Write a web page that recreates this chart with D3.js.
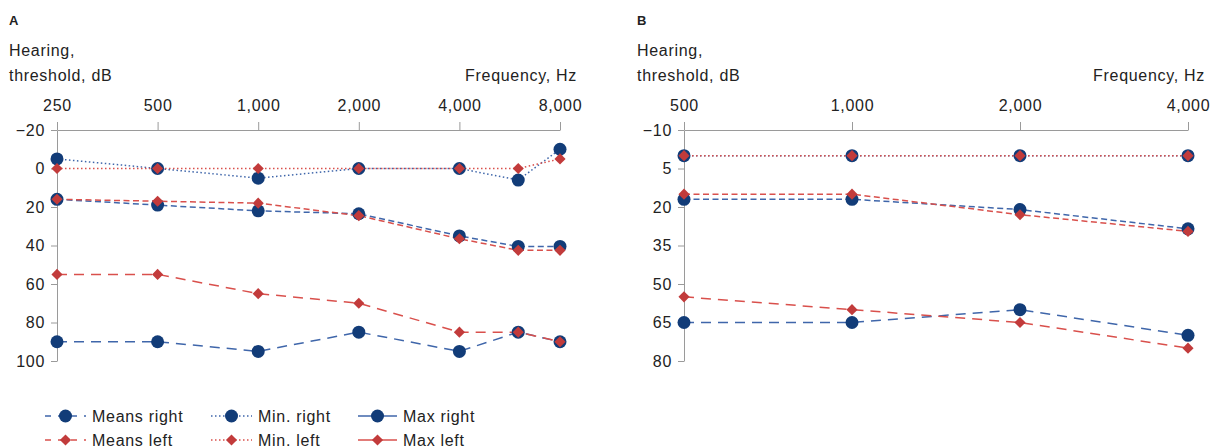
<!DOCTYPE html>
<html><head><meta charset="utf-8">
<script src="https://cdn.jsdelivr.net/npm/d3@7"></script>
<style>
body{margin:0;background:#fff;}
text{font-family:"Liberation Sans",Arial,sans-serif;fill:#222;letter-spacing:0.7px;}
</style></head>
<body><svg id="chart" width="1223" height="448"></svg>
<script>
// ---------- DATA ----------
const freqA = [250, 500, 1000, 2000, 4000, 6000, 8000];
const tickFreqA = [250, 500, 1000, 2000, 4000, 8000];
const yTicksA = [-20, 0, 20, 40, 60, 80, 100];
const meansRightA = [16, 19, 22, 23.5, 35, 40.5, 40.5];
const meansLeftA  = [16, 17, 18, 24.5, 36.5, 42.5, 42.5];
const minRightA   = [-5, 0, 5, 0, 0, 6, -10];
const minLeftA    = [0, 0, 0, 0, 0, 0, -5];
const maxRightA   = [90, 90, 95, 85, 95, 85, 90];
const maxLeftA    = [55, 55, 65, 70, 85, 85, 90];

const freqB = [500, 1000, 2000, 4000];
const tickFreqB = [500, 1000, 2000, 4000];
const yTicksB = [-10, 5, 20, 35, 50, 65, 80];
const meansRightB = [17, 17, 21, 28.5];
const meansLeftB  = [15, 15, 23, 29.5];
const minRightB   = [0, 0, 0, 0];
const minLeftB    = [0, 0, 0, 0];
const maxRightB   = [65, 65, 60, 70];
const maxLeftB    = [55, 60, 65, 75];

const seriesNames = ["Means right", "Min. right", "Max right", "Means left", "Min. left", "Max left"];

// ---------- STYLE ----------
const BLUE_LINE = "#3f66aa", BLUE_MARK = "#123c78";
const RED_LINE = "#d9504c", RED_MARK = "#c23b3b";
const AXIS = "#9a9a9a";
const FS = 16;
const styles = {
  "Means right": {line: BLUE_LINE, mark: BLUE_MARK, shape: "circle", dash: "6,3.5"},
  "Min. right":  {line: BLUE_LINE, mark: BLUE_MARK, shape: "circle", dash: "1.5,2.5"},
  "Max right":   {line: BLUE_LINE, mark: BLUE_MARK, shape: "circle", dash: "10,7"},
  "Means left":  {line: RED_LINE, mark: RED_MARK, shape: "diamond", dash: "6,3.5"},
  "Min. left":   {line: RED_LINE, mark: RED_MARK, shape: "diamond", dash: "1.5,2.5"},
  "Max left":    {line: RED_LINE, mark: RED_MARK, shape: "diamond", dash: "10,7"}
};
const legendDash = {"Means right": "6,7", "Min. right": "1.5,2.5", "Max right": null,
                    "Means left": "6,7", "Min. left": "1.5,2.5", "Max left": null};

const svg = d3.select("#chart");

function marker(g, shape, x, y, color) {
  if (shape === "circle") {
    g.append("circle").attr("cx", x).attr("cy", y).attr("r", 6.5).attr("fill", color);
  } else {
    g.append("path").attr("transform", `translate(${x},${y}) rotate(45)`)
      .attr("d", d3.symbol().type(d3.symbolSquare).size(62)()).attr("fill", color);
  }
}

function drawPanel(cfg) {
  const g = svg.append("g");
  const x = d3.scaleLog().base(2).domain([cfg.freq[0], cfg.freq[cfg.freq.length - 1]]).range([cfg.x0, cfg.x1]);
  const y = d3.scaleLinear().domain([cfg.yTicks[0], cfg.yTicks[cfg.yTicks.length - 1]]).range([130, 361]);

  g.append("text").attr("x", cfg.labelX).attr("y", 25).attr("font-weight", "bold").attr("font-size", 13).style("letter-spacing", "0px").text(cfg.letter);
  g.append("text").attr("x", cfg.labelX).attr("y", 56).attr("font-size", FS).text("Hearing,");
  g.append("text").attr("x", cfg.labelX).attr("y", 81).attr("font-size", FS).text("threshold, dB");
  g.append("text").attr("x", cfg.x1 + 17).attr("y", 81).attr("text-anchor", "end").attr("font-size", FS).text("Frequency, Hz");

  const xAxis = g.append("g").attr("transform", "translate(0,130)")
    .call(d3.axisTop(x).tickValues(cfg.tickFreq).tickFormat(d3.format(",")).tickSize(8).tickSizeOuter(0).tickPadding(11));
  const yAxis = g.append("g").attr("transform", `translate(${cfg.x0},0)`)
    .call(d3.axisLeft(y).tickValues(cfg.yTicks).tickSize(6).tickSizeOuter(0).tickPadding(6));
  [xAxis, yAxis].forEach(a => {
    a.selectAll("path,line").attr("stroke", AXIS);
    a.selectAll("text").attr("font-size", FS).attr("fill", "#222").style("font-family", '"Liberation Sans",Arial,sans-serif');
  });

  const order = ["Means right", "Min. right", "Max right", "Means left", "Min. left", "Max left"];
  const line = d3.line().x(d => x(d[0])).y(d => y(d[1]));
  order.forEach(name => {
    const st = styles[name];
    const pts = cfg.freq.map((f, i) => [f, cfg.data[name][i]]);
    g.append("path").attr("d", line(pts)).attr("fill", "none").attr("stroke", st.line)
      .attr("stroke-width", 1.5).attr("stroke-dasharray", st.dash);
  });
  order.forEach(name => {
    const st = styles[name];
    cfg.freq.forEach((f, i) => marker(g, st.shape, x(f), y(cfg.data[name][i]), st.mark));
  });
}

drawPanel({letter: "A", labelX: 9, x0: 57, x1: 560, freq: freqA, tickFreq: tickFreqA, yTicks: yTicksA,
  data: {"Means right": meansRightA, "Means left": meansLeftA, "Min. right": minRightA, "Min. left": minLeftA,
         "Max right": maxRightA, "Max left": maxLeftA}});
drawPanel({letter: "B", labelX: 637, x0: 684, x1: 1188, freq: freqB, tickFreq: tickFreqB, yTicks: yTicksB,
  data: {"Means right": meansRightB, "Means left": meansLeftB, "Min. right": minRightB, "Min. left": minLeftB,
         "Max right": maxRightB, "Max left": maxLeftB}});

// ---------- LEGEND ----------
const colX = [45, 211, 358];
const colW = [41, 41, 39];
const rowY = [416, 440];
const leg = svg.append("g");
seriesNames.forEach((name, i) => {
  const col = i % 3, row = Math.floor(i / 3);
  const st = styles[name];
  const x0 = colX[col], x1 = x0 + colW[col], yy = rowY[row];
  const l = leg.append("line").attr("x1", x0).attr("x2", x1).attr("y1", yy).attr("y2", yy)
    .attr("stroke", st.line).attr("stroke-width", 1.5);
  if (legendDash[name]) l.attr("stroke-dasharray", legendDash[name]);
  marker(leg, st.shape, (x0 + x1) / 2, yy, st.mark);
  leg.append("text").attr("x", x1 + 6).attr("y", yy + 5.5).attr("font-size", FS).text(name);
});
</script></body></html>
